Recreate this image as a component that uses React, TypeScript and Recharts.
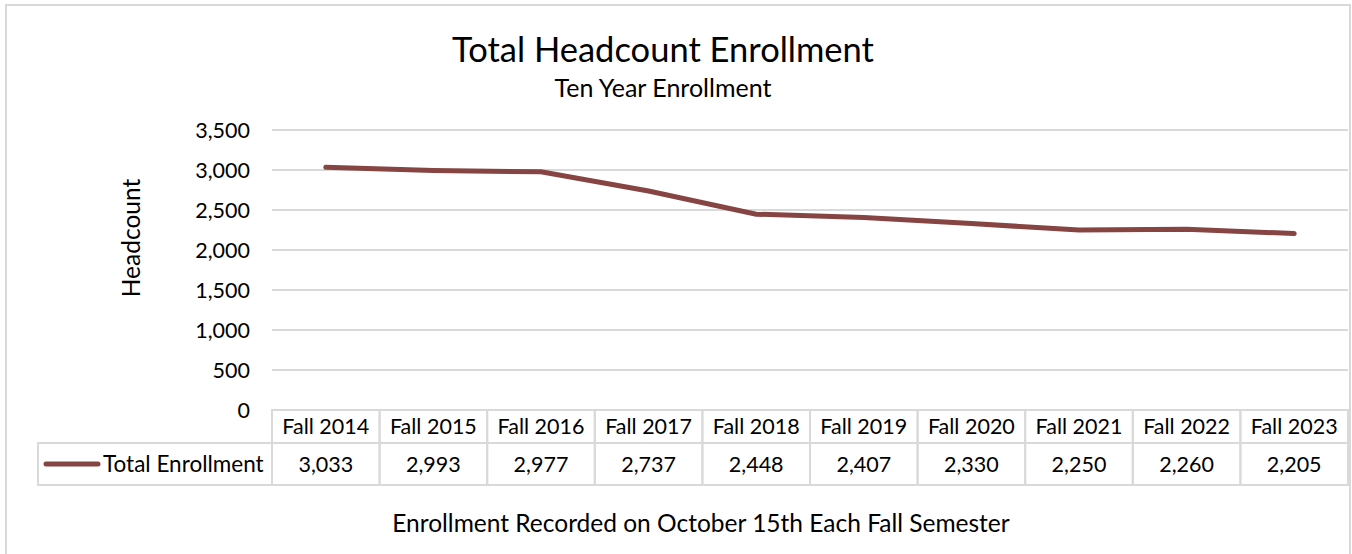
import { LineChart, Line, XAxis, YAxis, CartesianGrid } from "recharts";

const years = [
  "Fall 2014",
  "Fall 2015",
  "Fall 2016",
  "Fall 2017",
  "Fall 2018",
  "Fall 2019",
  "Fall 2020",
  "Fall 2021",
  "Fall 2022",
  "Fall 2023",
];
const enrollment = [3033, 2993, 2977, 2737, 2448, 2407, 2330, 2250, 2260, 2205];
const yTicks = [0, 500, 1000, 1500, 2000, 2500, 3000, 3500];

const data = years.map((year, i) => ({ year, total: enrollment[i] }));

const FONT = "Lato, 'Open Sans', sans-serif";
const LINE_COLOR = "#864542";
const BORDER = "#d9d9d9";
const CELL_W = 107.6;
const HEAD_H = 33;
const ROW_H = 42;

const fmt = (v: number) => v.toLocaleString("en-US");

// x-axis tick draws one column of the data table
function TableTick(props: any) {
  const { x, y, payload, index } = props;
  const left = x - CELL_W / 2;
  return (
    <g>
      <rect x={left} y={y} width={CELL_W} height={HEAD_H} fill="none" stroke={BORDER} strokeWidth={2} />
      <rect x={left} y={y + HEAD_H} width={CELL_W} height={ROW_H} fill="none" stroke={BORDER} strokeWidth={2} />
      <text x={x} y={y + 24} textAnchor="middle" fontSize={21.5} fill="#000" fontFamily={FONT}>
        {payload.value}
      </text>
      <text x={x} y={y + HEAD_H + 29} textAnchor="middle" fontSize={21.5} fill="#000" fontFamily={FONT}>
        {fmt(enrollment[index])}
      </text>
      {index === 0 && (
        <g>
          <rect x={38} y={y + HEAD_H} width={left - 38} height={ROW_H} fill="none" stroke={BORDER} strokeWidth={2} />
          <line x1={46} x2={98} y1={y + HEAD_H + 21} y2={y + HEAD_H + 21} stroke={LINE_COLOR} strokeWidth={5} strokeLinecap="round" />
          <text x={103} y={y + HEAD_H + 29} fontSize={22.5} fill="#000" fontFamily={FONT}>
            Total Enrollment
          </text>
        </g>
      )}
    </g>
  );
}

export default function App() {
  return (
    <div style={{ position: "absolute", left: 0, top: 0, width: 1352, height: 554, background: "#fff" }}>
      <svg width={1352} height={554} style={{ position: "absolute", left: 0, top: 0 }}>
        <rect x={6} y={5} width={1344} height={560} fill="#fff" stroke={BORDER} strokeWidth={2} />
        <text x={663} y={62} textAnchor="middle" fontSize={34.5} fontFamily={FONT} fill="#000">
          Total Headcount Enrollment
        </text>
        <text x={663} y={97} textAnchor="middle" fontSize={25} fontFamily={FONT} fill="#000">
          Ten Year Enrollment
        </text>
        <text
          x={0}
          y={0}
          transform="translate(140,238) rotate(-90)"
          textAnchor="middle"
          fontSize={24.5}
          fontFamily={FONT}
          fill="#000"
        >
          Headcount
        </text>
        <text x={701} y={532} textAnchor="middle" fontSize={24.5} fontFamily={FONT} fill="#000">
          Enrollment Recorded on October 15th Each Fall Semester
        </text>
      </svg>
      <div style={{ position: "absolute", left: 0, top: 0 }}>
        <LineChart
          width={1352}
          height={554}
          data={data}
          margin={{ top: 130, right: 4, bottom: 68, left: 192 }}
        >
          <CartesianGrid vertical={false} stroke={BORDER} strokeWidth={2} />
          <XAxis
            dataKey="year"
            axisLine={false}
            tickLine={false}
            tickSize={0}
            tickMargin={0}
            height={76}
            interval={0}
            padding={{ left: CELL_W / 2, right: CELL_W / 2 }}
            tick={<TableTick />}
          />
          <YAxis
            width={80}
            domain={[0, 3500]}
            ticks={yTicks}
            axisLine={false}
            tickLine={false}
            tickSize={0}
            tickMargin={22}
            tickFormatter={fmt}
            tick={{ fontSize: 21.5, fill: "#000", fontFamily: FONT }}
          />
          <Line
            type="linear"
            dataKey="total"
            stroke={LINE_COLOR}
            strokeWidth={5}
            dot={false}
            strokeLinecap="round"
            isAnimationActive={false}
          />
        </LineChart>
      </div>
    </div>
  );
}
